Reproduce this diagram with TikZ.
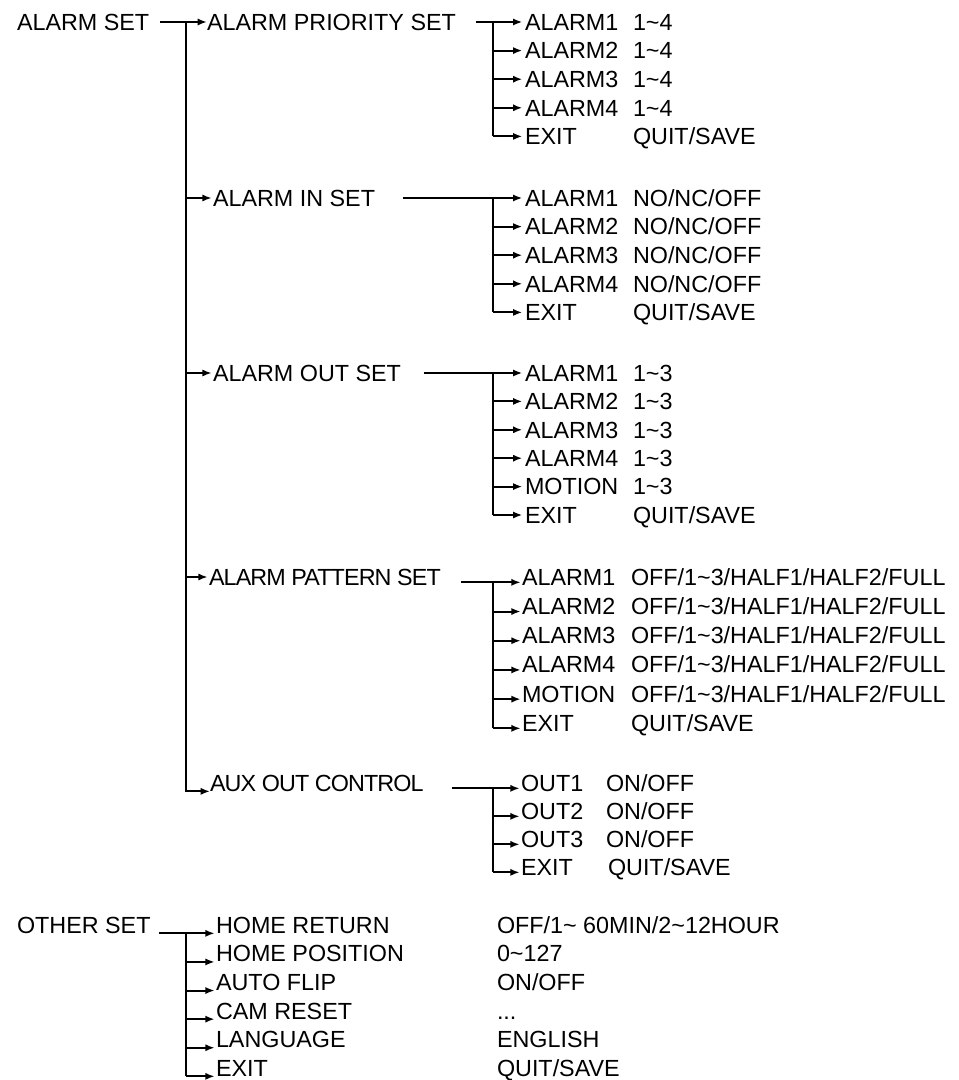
\documentclass[tikz,border=0pt]{standalone}
\usepackage{fontspec}
\setmainfont{Liberation Sans}
\usetikzlibrary{arrows.meta,positioning,calc}
\newcommand{\menufont}{\fontsize{17.5}{20}\selectfont}
\newcommand{\tld}{\textasciitilde}
\newcommand{\threedots}{...}

\begin{document}
\begin{tikzpicture}[x=0.75pt,y=-0.75pt,
   lbl/.style={anchor=west,inner sep=0pt,outer sep=0pt,font=\menufont,
               text height=12.5pt,text depth=0pt},
   tight/.style={lbl,font=\menufont\addfontfeature{LetterSpace=-3.8}},
   ln/.style={line width=1.5pt},
   arr/.style={ln,-{Latex[length=7pt,width=5.4pt]}}]
  \useasboundingbox (0,0) rectangle (958,1080);

  % main menu
  \node[lbl] (alarmset) at (17,22) {ALARM SET};
  \node[lbl] (prio) at (207,22) {ALARM PRIORITY SET};
  \node[lbl] (inset) at (213,198) {ALARM IN SET};
  \node[lbl] (outset) at (213,373) {ALARM OUT SET};
  \node[tight] (patset) at (209,577) {ALARM PATTERN SET};
  \node[tight] (auxctl) at (210,783) {AUX OUT CONTROL};
  \coordinate (trunk) at (186,22);
  \draw[arr,shorten <=8pt] (alarmset) -- (prio);
  \draw[arr] (trunk) |- (auxctl.base west);
  \foreach \m in {inset,outset,patset}
    \draw[arr,shorten >=1pt] (trunk |- \m.west) -- (\m.west);

  % ALARM PRIORITY SET
  \coordinate (j1) at (493,22);
  \foreach \nm/\vl [count=\i] in {ALARM1/1\tld4,ALARM2/1\tld4,ALARM3/1\tld4,
                                  ALARM4/1\tld4,EXIT/{QUIT/SAVE}}{
    \node[lbl] (pri\i) at (525,{22+28.6*(\i-1)}) {\nm};
    \node[lbl] (priv\i) at (633,{22+28.6*(\i-1)}) {\vl};
    \draw[arr,shorten >=2pt] (j1 |- pri\i.west) -- (pri\i.west);
  }
  \draw[ln,shorten <=15pt] (prio.east) -- (j1) -- (j1 |- pri5.west);

  % ALARM IN SET
  \coordinate (j2) at (493,198);
  \foreach \nm/\vl [count=\i] in {ALARM1/{NO/NC/OFF},ALARM2/{NO/NC/OFF},
                                  ALARM3/{NO/NC/OFF},ALARM4/{NO/NC/OFF},EXIT/{QUIT/SAVE}}{
    \node[lbl] (ins\i) at (525,{198+28.6*(\i-1)}) {\nm};
    \node[lbl] (insv\i) at (633,{198+28.6*(\i-1)}) {\vl};
    \draw[arr,shorten >=2pt] (j2 |- ins\i.west) -- (ins\i.west);
  }
  \draw[ln,shorten <=21pt] (inset.east) -- (j2) -- (j2 |- ins5.west);

  % ALARM OUT SET
  \coordinate (j3) at (493,373);
  \foreach \nm/\vl [count=\i] in {ALARM1/1\tld3,ALARM2/1\tld3,ALARM3/1\tld3,
                                  ALARM4/1\tld3,MOTION/1\tld3,EXIT/{QUIT/SAVE}}{
    \node[lbl] (ots\i) at (525,{373+28.4*(\i-1)}) {\nm};
    \node[lbl] (otsv\i) at (633,{373+28.4*(\i-1)}) {\vl};
    \draw[arr,shorten >=2pt] (j3 |- ots\i.west) -- (ots\i.west);
  }
  \draw[ln,shorten <=17pt] (outset.east) -- (j3) -- (j3 |- ots6.west);

  % ALARM PATTERN SET
  \foreach \nm/\vl [count=\i] in {ALARM1/{OFF/1\tld3/HALF1/HALF2/FULL},
      ALARM2/{OFF/1\tld3/HALF1/HALF2/FULL},ALARM3/{OFF/1\tld3/HALF1/HALF2/FULL},
      ALARM4/{OFF/1\tld3/HALF1/HALF2/FULL},MOTION/{OFF/1\tld3/HALF1/HALF2/FULL},
      EXIT/{QUIT/SAVE}}{
    \node[lbl] (pat\i) at (522,{577+29.2*(\i-1)}) {\nm};
    \node[lbl] (patv\i) at (631,{577+29.2*(\i-1)}) {\vl};
    \coordinate (pa\i) at ([yshift=-4pt]pat\i.west);
  }
  \coordinate (patsetr) at ([yshift=-4pt]patset.east);
  \coordinate (j4) at (pa1 -| 493,0);
  \foreach \i in {1,...,6}
    \draw[arr,shorten >=1pt] (j4 |- pa\i) -- (pa\i);
  \draw[ln,shorten <=15pt] (patsetr) -- (j4) -- (j4 |- pa6);

  % AUX OUT CONTROL
  \foreach \nm/\vl [count=\i] in {OUT1/{ON/OFF},OUT2/{ON/OFF},OUT3/{ON/OFF},
                                  EXIT/{QUIT/SAVE}}{
    \node[lbl] (aux\i) at (521,{783+28*(\i-1)}) {\nm};
    \node[lbl] (auxv\i) at (\ifnum\i=4 608\else 606\fi,{783+28*(\i-1)}) {\vl};
    \coordinate (ax\i) at ([yshift=-4pt]aux\i.west);
  }
  \coordinate (auxctlr) at ([yshift=-4pt]auxctl.east);
  \coordinate (j5) at (ax1 -| 493,0);
  \foreach \i in {1,...,4}
    \draw[arr,shorten >=1pt] (j5 |- ax\i) -- (ax\i);
  \draw[ln,shorten <=21pt] (auxctlr) -- (j5) -- (j5 |- ax4);

  % OTHER SET
  \node[lbl] (othset) at (17,925) {OTHER SET};
  \foreach \nm/\vl [count=\i] in {HOME RETURN/{OFF/1\tld{} 60MIN/2\tld12HOUR},
      HOME POSITION/0\tld127,AUTO FLIP/{ON/OFF},CAM RESET/\threedots,
      LANGUAGE/ENGLISH,EXIT/{QUIT/SAVE}}{
    \node[lbl] (oth\i) at (216,{925+28.6*(\i-1)}) {\nm};
    \node[lbl] (othv\i) at (497,{925+28.6*(\i-1)}) {\vl};
  }
  \coordinate (j6) at (othset.base east -| 186,0);
  \foreach \i in {1,...,6}
    \draw[arr,shorten >=1pt] (j6 |- oth\i.base west) -- (oth\i.base west);
  \draw[ln,shorten <=6pt] (othset.base east) -- (j6) -- (j6 |- oth6.base west);
\end{tikzpicture}
\end{document}
